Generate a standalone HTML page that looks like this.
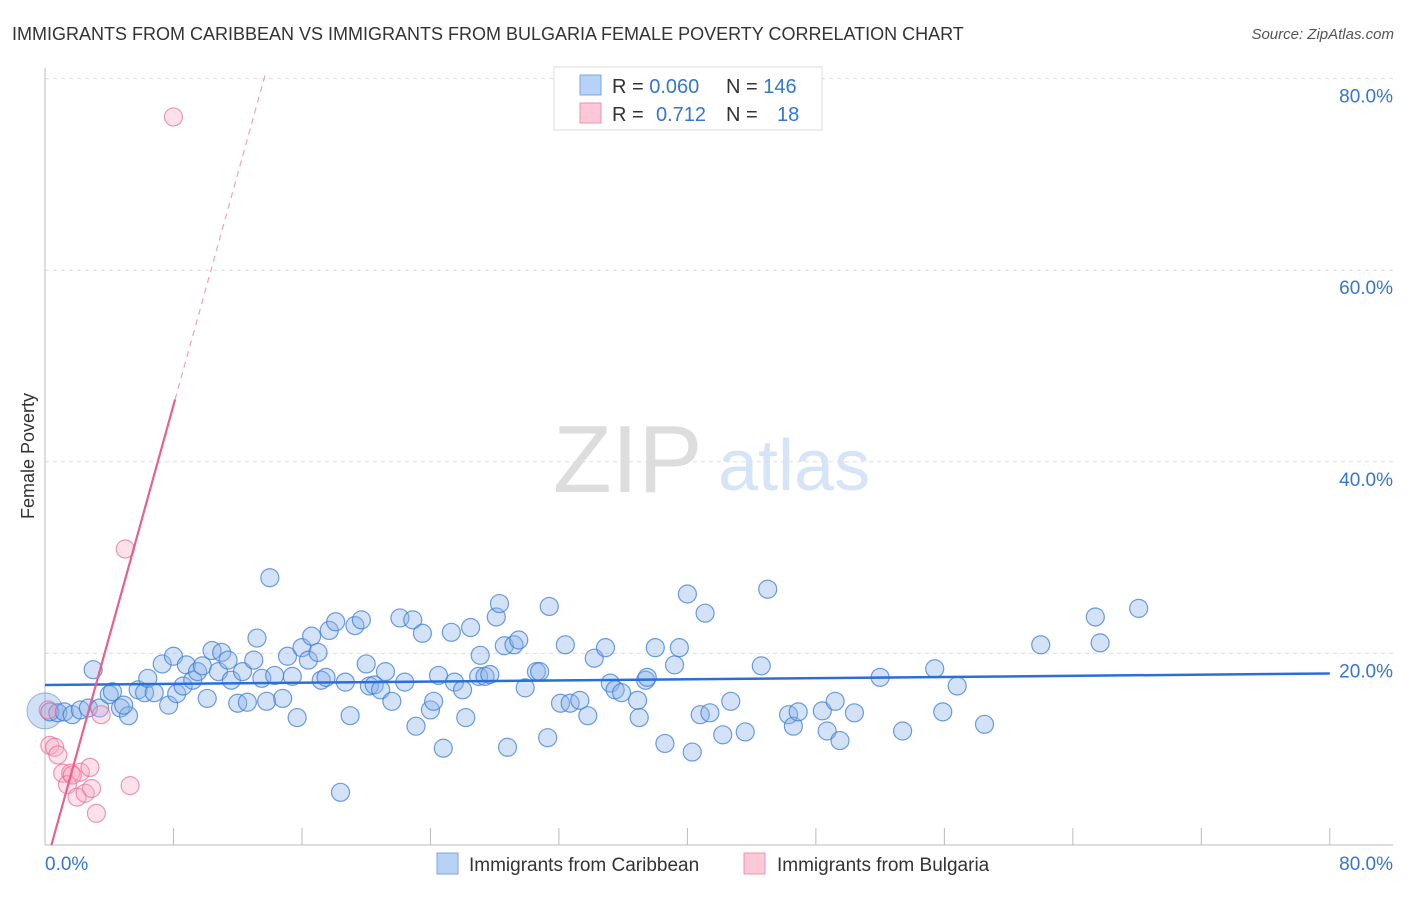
<!DOCTYPE html>
<html><head><meta charset="utf-8"><style>
body{margin:0;background:#fff;font-family:"Liberation Sans",sans-serif}
svg text{font-family:"Liberation Sans",sans-serif}
</style></head><body>
<svg id="c" width="1406" height="892" viewBox="0 0 1406 892">
<text x="12" y="40" font-size="18" fill="#333">IMMIGRANTS FROM CARIBBEAN VS IMMIGRANTS FROM BULGARIA FEMALE POVERTY CORRELATION CHART</text>
<text x="1394" y="39" font-size="15" fill="#555" font-style="italic" text-anchor="end">Source: ZipAtlas.com</text>
<g><text x="553" y="492" font-size="96" fill="#ddd" font-family="Liberation Serif,serif">ZIP</text><text x="718" y="490" font-size="72" fill="#d6e4f7">atlas</text></g>
<g id="grid"></g>
<g id="axes"></g>
<text transform="translate(34,456) rotate(-90)" font-size="18" fill="#333" text-anchor="middle">Female Poverty</text>
<g id="pts"></g>
<g id="trend"></g>
<g>
<rect x="554" y="67" width="268" height="63" fill="#fff" stroke="#ddd"/>
<rect x="580" y="75" width="21" height="20" fill="#b8d2f5" stroke="#7aa7e6"/>
<rect x="580" y="103" width="21" height="20" fill="#fbc8d8" stroke="#ee92b0"/>
<text x="612" y="93" font-size="20" fill="#333">R = <tspan fill="#3575d3">0.060</tspan><tspan x="726">N = </tspan><tspan fill="#3575d3">146</tspan></text>
<text x="612" y="121" font-size="20" fill="#333">R = <tspan x="656" fill="#3575d3">0.712</tspan><tspan x="726">N = </tspan><tspan x="777" fill="#3575d3">18</tspan></text>
</g>
<g>
<rect x="437" y="853" width="21" height="21" fill="#b8d2f5" stroke="#7aa7e6"/>
<text x="469" y="871" font-size="19" fill="#333">Immigrants from Caribbean</text>
<rect x="744" y="853" width="21" height="21" fill="#fbc8d8" stroke="#ee92b0"/>
<text x="777" y="871" font-size="19" fill="#333">Immigrants from Bulgaria</text>
</g>
</svg>
<script>
const blueData=[[0.3,13.9],[0.8,13.8],[1.2,13.9],[1.7,13.6],[2.2,14.1],[2.7,14.3],[3.0,18.3],[3.4,14.3],[4.0,15.7],[4.2,16.0],[4.7,14.3],[5.2,13.5],[4.9,14.6],[5.8,16.2],[6.2,15.9],[6.4,17.4],[6.8,15.9],[7.3,18.9],[7.7,14.6],[8.0,19.7],[8.2,15.8],[8.6,16.6],[8.8,18.8],[9.2,17.2],[9.5,18.1],[9.8,18.7],[10.1,15.3],[10.4,20.3],[10.8,18.1],[11.0,20.1],[11.4,19.3],[11.6,17.2],[12.0,14.8],[12.3,18.1],[12.6,14.9],[13.0,19.3],[13.2,21.6],[13.5,17.4],[13.8,15.0],[14.0,27.9],[14.3,17.7],[14.8,15.3],[15.1,19.7],[15.4,17.6],[15.7,13.3],[16.0,20.6],[16.4,19.3],[16.6,21.8],[17.0,20.1],[17.2,17.2],[17.5,17.5],[17.7,22.4],[18.1,23.3],[18.4,5.5],[18.7,17.0],[19.0,13.5],[19.3,22.9],[19.7,23.5],[20.0,18.9],[20.2,16.6],[20.5,16.7],[20.9,16.2],[21.2,18.1],[21.6,15.0],[22.1,23.7],[22.4,17.0],[22.9,23.5],[23.1,12.4],[23.5,22.1],[24.0,14.1],[24.2,15.0],[24.5,17.7],[24.8,10.1],[25.3,22.2],[25.5,17.0],[26.0,16.2],[26.2,13.3],[26.5,22.7],[27.0,17.6],[27.1,19.8],[27.4,17.6],[27.7,17.8],[28.1,23.8],[28.3,25.2],[28.6,20.8],[28.8,10.2],[29.2,20.9],[29.5,21.4],[29.9,16.4],[30.6,18.1],[30.8,18.1],[31.3,11.2],[31.4,24.9],[32.1,14.8],[32.4,20.9],[32.7,14.8],[33.3,15.1],[33.8,13.5],[34.2,19.5],[34.9,20.6],[35.2,16.9],[35.5,16.2],[35.9,15.9],[36.9,15.1],[37.0,13.3],[37.4,17.2],[37.5,17.5],[38.0,20.6],[38.6,10.6],[39.2,18.8],[39.5,20.6],[40.0,26.2],[40.3,9.7],[40.8,13.6],[41.1,24.2],[41.4,13.8],[42.2,11.5],[42.7,15.0],[43.6,11.8],[44.6,18.7],[45.0,26.7],[46.3,13.6],[46.6,12.4],[46.9,13.9],[48.4,14.0],[48.7,11.9],[49.2,15.0],[49.5,10.9],[50.4,13.8],[52.0,17.5],[53.4,11.9],[55.4,18.4],[55.9,13.9],[56.8,16.6],[58.5,12.6],[62.0,20.9],[65.4,23.8],[65.7,21.1],[68.1,24.7]];
const pinkData=[[8.0,76.0],[5.0,30.9],[0.3,10.4],[0.6,10.2],[0.8,9.4],[1.1,7.5],[1.6,7.5],[1.4,6.3],[2.2,7.6],[2.0,5.0],[2.5,5.4],[2.8,8.1],[2.9,5.9],[3.2,3.3],[3.5,13.6],[5.3,6.2],[0.2,14.1],[1.7,7.3]];
const blueTrend=[16.7,17.9];
const pinkTrend={slope:6.04,x0:0.4};
const yTicks=[20,40,60,80];
const yTickLabels=["20.0%","40.0%","60.0%","80.0%"];
const xTicks=[0,8,16,24,32,40,48,56,64,72,80];
const X=v=>45+v*16.06, Y=v=>845-v*9.58;
const NS="http://www.w3.org/2000/svg";
function mk(p,t,a){const e=document.createElementNS(NS,t);for(const k in a)e.setAttribute(k,a[k]);p.appendChild(e);return e;}
const grid=document.getElementById('grid'),axes=document.getElementById('axes'),pts=document.getElementById('pts'),tr=document.getElementById('trend');
yTicks.forEach((v,i)=>{
 const l=mk(grid,'line',{x1:45,x2:1393,y1:Y(v),y2:Y(v),stroke:'#ddd','stroke-dasharray':'4,4'});
 
 
 const t=mk(axes,'text',{x:1393,y:Y(v)+24,'font-size':19,fill:'#3575d3','text-anchor':'end'});t.textContent=yTickLabels[i];
 
 
});
const ax=mk(axes,'line',{x1:45,x2:45,y1:68,y2:845,stroke:'#bbb'});


const bx=mk(axes,'line',{x1:45,x2:1393,y1:845,y2:845,stroke:'#bbb'});


xTicks.forEach(v=>{const t=mk(axes,'line',{x1:X(v),x2:X(v),y1:828,y2:845,stroke:'#bbb'});
 
 });
const xl0=mk(axes,'text',{x:45,y:870,'font-size':19,fill:'#3575d3'});xl0.textContent='0.0%';


const xl1=mk(axes,'text',{x:1393,y:870,'font-size':19,fill:'#3575d3','text-anchor':'end'});xl1.textContent='80.0%';


const big1=mk(pts,'circle',{cx:X(0),cy:Y(14),r:18,fill:'rgba(120,165,230,0.35)',stroke:'rgba(60,120,210,0.5)'});


blueData.forEach(d=>{const c=mk(pts,'circle',{cx:X(d[0]),cy:Y(d[1]),r:9,fill:'rgba(140,180,235,0.38)',stroke:'rgba(60,125,215,0.75)','stroke-width':1.2});
 
 });
pinkData.forEach(d=>{const c=mk(pts,'circle',{cx:X(d[0]),cy:Y(d[1]),r:9,fill:'rgba(245,170,195,0.35)',stroke:'rgba(230,110,150,0.7)','stroke-width':1.2});
 
 });
const bl=mk(tr,'line',{x1:X(0),x2:X(80),y1:Y(blueTrend[0]),y2:Y(blueTrend[1]),stroke:'#2a6fd6','stroke-width':2.5});


const pyv=x=>pinkTrend.slope*(x-pinkTrend.x0);
const pl=mk(tr,'line',{x1:X(pinkTrend.x0),x2:X(8.1),y1:Y(0),y2:Y(pyv(8.1)),stroke:'#e8608f','stroke-width':2.2});


const pd=mk(tr,'line',{x1:X(8.1),x2:X(13.7),y1:Y(pyv(8.1)),y2:Y(pyv(13.7)),stroke:'#eea0ba','stroke-width':1.2,'stroke-dasharray':'6,5'});


</script>
</body></html>
